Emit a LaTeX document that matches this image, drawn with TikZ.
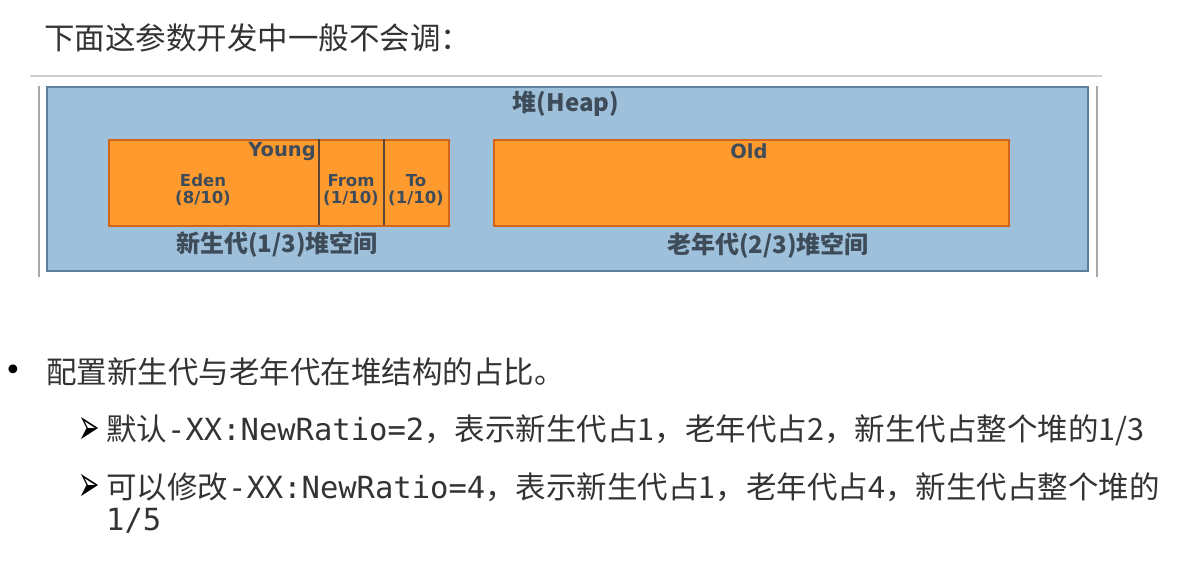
\documentclass[tikz,border=0pt]{standalone}
\usepackage{fontspec}
\setmainfont{Noto Sans CJK SC}
\setmonofont{DejaVu Sans Mono}
\newfontfamily\symfont{DejaVu Sans}
\definecolor{heapblue}{HTML}{9EC0DA}
\definecolor{heapedge}{HTML}{5E7F9B}
\definecolor{orangefill}{HTML}{FF9A2E}
\definecolor{orangeedge}{HTML}{D2651A}
\definecolor{divider}{HTML}{5A4636}
\definecolor{labeltext}{HTML}{3E4C5A}
\definecolor{bodytext}{HTML}{333333}
\definecolor{rulegray}{HTML}{CFCFCF}
\definecolor{sidegray}{HTML}{A8A8A8}
\begin{document}
\begin{tikzpicture}[x=1pt,y=-1pt,
  body/.style={inner sep=0pt, text=bodytext, font=\fontsize{30.5}{36}\selectfont},
  heapbox/.style={draw=heapedge, line width=1.5pt, fill=heapblue, inner sep=0pt, anchor=north west},
  genbox/.style={draw=orangeedge, line width=1.5pt, fill=orangefill, inner sep=0pt, anchor=north west},
  lbl/.style={inner sep=0pt, text=labeltext, font=\fontsize{24}{27}\selectfont\bfseries},
  latlbl/.style={inner sep=0pt, text=labeltext, font=\symfont\fontsize{19.5}{22}\selectfont\bfseries},
  small/.style={inner sep=0pt, text=labeltext, align=center, font=\symfont\fontsize{16.5}{16.5}\selectfont\bfseries},
  divline/.style={draw=divider, line width=1.8pt},
  bulletsym/.style={inner sep=0pt, text=black},
  arrowsym/.style={inner sep=0pt, text=black, font=\symfont\fontsize{34}{34}\selectfont}
]
\useasboundingbox (0,0) rectangle (1195,568);
\fill[white] (0,0) rectangle (1195,568);

\node[body, anchor=west] (title) at (44,38) {下面这参数开发中一般不会调：};

\coordinate (ruleL) at (30,76);
\coordinate (ruleR) at (1102,76);
\draw[rulegray, line width=2pt] (ruleL) -- (ruleR);
\coordinate (sideLt) at (39,86);
\coordinate (sideLb) at (39,277);
\coordinate (sideRt) at (1097,86);
\coordinate (sideRb) at (1097,277);
\draw[sidegray, line width=2pt] (sideLt) -- (sideLb);
\draw[sidegray, line width=2pt] (sideRt) -- (sideRb);

\node[heapbox, minimum width=1041pt, minimum height=184pt] (heap) at (46,86) {};
\node[lbl] (heaplbl) at (566,104) {堆(Heap)};

\node[genbox, minimum width=340pt, minimum height=86pt] (young) at (108,139) {};
\coordinate (d1t) at (319,139);
\coordinate (d1b) at (319,225);
\coordinate (d2t) at (384,139);
\coordinate (d2b) at (384,225);
\draw[divline] (d1t) -- (d1b);
\draw[divline] (d2t) -- (d2b);
\node[latlbl, anchor=east] (younglbl) at (316,151) {Young};
\node[small] (eden) at (203,190) {Eden\\(8/10)};
\node[small] (from) at (351,190) {From\\(1/10)};
\node[small] (to) at (416,190) {To\\(1/10)};

\node[genbox, minimum width=515pt, minimum height=86pt] (old) at (493,139) {};
\node[latlbl] (oldlbl) at (749,151) {Old};

\node[lbl] (younglabel) at (277,245) {新生代(1/3)堆空间};
\node[lbl] (oldlabel) at (768,246) {老年代(2/3)堆空间};

\node[bulletsym, font=\symfont\fontsize{30}{30}\selectfont] (bullet) at (13,373) {•};
\node[body, anchor=west] (l1) at (46,372) {配置新生代与老年代在堆结构的占比。};

\node[arrowsym] (arr1) at (89,431) {\scalebox{0.75}[1.5]{➢}};
\node[body, anchor=west] (l2) at (106,430) {默认\texttt{-XX:NewRatio=2}，表示新生代占1，老年代占2，新生代占整个堆的1/3};

\node[arrowsym] (arr2) at (89,488) {\scalebox{0.75}[1.5]{➢}};
\node[body, anchor=west] (l3) at (106,487) {可以修改\texttt{-XX:NewRatio=4}，表示新生代占1，老年代占4，新生代占整个堆的};
\node[body, anchor=west] (l4) at (106,521) {\texttt{1/5}};
\end{tikzpicture}
\end{document}
